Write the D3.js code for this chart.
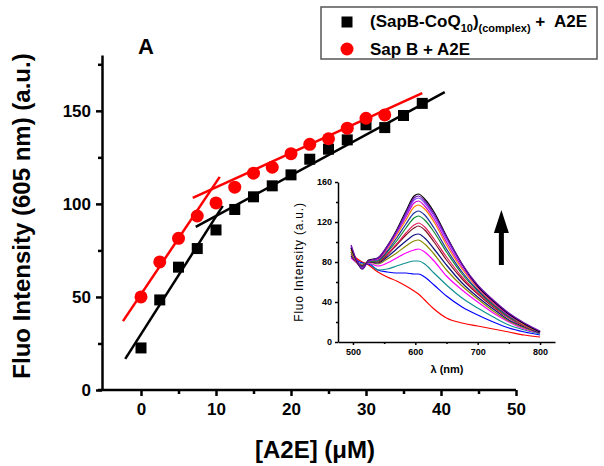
<!DOCTYPE html>
<html><head><meta charset="utf-8">
<script src="https://cdn.jsdelivr.net/npm/d3@7"></script>
<style>
body{margin:0;background:#fff;}
svg{display:block;font-family:"Liberation Sans",Arial,sans-serif;}
</style></head>
<body><svg id="c" width="604" height="466"></svg>
<script>
// ---- main data ----
const complexX = [0,2.5,5,7.5,10,12.5,15,17.5,20,22.5,25,27.5,30,32.5,35,37.5];
const complexY = [22.6,48.4,66,76,86,97,103.8,109.7,115.6,124,129.4,134.4,142.5,141,147.5,154];
const sapBX = [0,2.5,5,7.5,10,12.5,15,17.5,20,22.5,25,27.5,30,32.5];
const sapBY = [50,68.8,81.5,93.5,100.5,109,116.5,119.7,127,132,135,140.7,146,147.8];
const sapBFit1 = [[-2.4,37],[10.5,114.5]];
const sapBFit2 = [[6.9,103.2],[37.5,159.5]];
const complexFit1 = [[-2.1,16.7],[10.9,98.9]];
const complexFit2 = [[7.3,87.6],[40.5,160]];
const xTicks = [0,10,20,30,40,50];
const xMinor = [5,15,25,35,45];
const yTicks = [0,50,100,150];
const yMinor = [25,75,125,175];
const legendLabels = ["(SapB-CoQ", "10", ")", "(complex)", " +  A2E", "Sap B + A2E"];

// ---- inset data ----
const wavelengths = [497,505,515,525,540,555,570,585,598,605,615,630,650,675,700,725,750,775,800];
const specRed      = [90,84,80,77,70,65,61,56,51,48,42,33,24,19,16,13,10,7,5];
const specBlue     = [86,82,79,78,72,70,69,69,68,68,65,57,46,35,27,20,14,10,7];
const specTeal     = [88,81,78,79,72,73,76,79,81,81,78,69,57,44,34,25,17,12,8];
const specMagenta  = [84,80,77,79,76,79,84,89,92,93,90,81,66,52,40,29,20,13,9];
const specOlive    = [90,81,77,80,78,83,89,96,101,102,98,88,72,56,43,31,21,14,9];
const specNavy     = [86,80,76,80,79,85,93,101,107,108,104,93,77,59,45,33,22,15,9];
const specDarkRed  = [92,81,76,80,80,87,97,107,114,116,112,100,82,63,48,35,24,16,10];
const specCrimson  = [88,80,75,80,81,88,98,109,117,119,115,103,85,65,49,36,24,16,10];
const specGreen    = [90,81,75,80,81,90,101,114,124,126,122,110,90,68,51,37,25,17,10];
const specBlue2    = [94,82,75,81,82,91,104,118,129,131,127,114,93,70,52,38,26,17,10];
const specOrange   = [92,81,74,81,83,93,107,122,135,137,133,120,97,73,54,39,27,17,10];
const specMagenta2 = [95,82,74,81,83,94,109,125,139,141,136,123,100,75,55,40,27,18,10];
const specViolet   = [96,82,74,81,84,95,110,127,142,144,139,126,103,77,56,41,28,18,10];
const specPurple   = [97,83,73,81,84,96,111,129,144,146,141,128,105,78,57,42,29,19,11];
const specBlack    = [94,82,73,82,84,96,112,131,146,148,143,130,106,78,56,41,28,18,10];
const spectra = [specRed,specBlue,specTeal,specMagenta,specOlive,specNavy,specDarkRed,specCrimson,
  specGreen,specBlue2,specOrange,specMagenta2,specViolet,specBlack,specPurple];
const specColors = ["#ff0000","#0000ff","#109090","#ff00ff","#8a8a00","#101080","#801020","#e0205a",
  "#108a30","#2030a0","#ff8000","#d000d0","#8040ff","#000000","#7010b0"];
const insetXTicks = [500,600,700,800];
const insetXMinor = [550,650,750];
const insetYTicks = [0,40,80,120,160];
const insetYMinor = [20,60,100,140];
const arrowData = {x:738, y0:77, y1:132};

const svg = d3.select("#c");
const x = d3.scaleLinear().domain([-5.2,50]).range([102,516]);
const y = d3.scaleLinear().domain([0,180]).range([390,55]);

// axes
function styleAxis(g, w){
  g.select(".domain").attr("stroke","#000").attr("stroke-width",w);
  g.selectAll(".tick line").attr("stroke","#000").attr("stroke-width",w);
}
const gx = svg.append("g").attr("transform","translate(0,390)")
  .call(d3.axisBottom(x).tickValues(xTicks).tickSize(6).tickSizeOuter(0).tickPadding(7));
styleAxis(gx,2.5);
gx.select(".domain").attr("d","M98,0H516");
gx.selectAll("text").attr("font-size",17).attr("font-weight","bold").attr("fill","#000").attr("font-family","Liberation Sans, Arial, sans-serif");
const gxm = svg.append("g").attr("transform","translate(0,390)")
  .call(d3.axisBottom(x).tickValues(xMinor).tickSize(4).tickFormat(""));
styleAxis(gxm,2.5); gxm.select(".domain").remove();

const gy = svg.append("g").attr("transform","translate(102,0)")
  .call(d3.axisLeft(y).tickValues(yTicks).tickSize(6).tickSizeOuter(0).tickPadding(5));
styleAxis(gy,2.5);
gy.selectAll("text").attr("font-size",17).attr("font-weight","bold").attr("fill","#000").attr("font-family","Liberation Sans, Arial, sans-serif");
const gym = svg.append("g").attr("transform","translate(102,0)")
  .call(d3.axisLeft(y).tickValues(yMinor).tickSize(4).tickFormat(""));
styleAxis(gym,2.5); gym.select(".domain").remove();

// titles
svg.append("text").attr("transform","translate(30,216) rotate(-90)").attr("text-anchor","middle")
  .attr("font-size",24).attr("font-weight","bold").text("Fluo Intensity (605 nm) (a.u.)");
svg.append("text").attr("x",315).attr("y",458).attr("text-anchor","middle")
  .attr("font-size",24).attr("font-weight","bold").text("[A2E] (\u03bcM)");
svg.append("text").attr("x",146).attr("y",54).attr("text-anchor","middle")
  .attr("font-size",22).attr("font-weight","bold").text("A");

// fit lines
const line2 = d3.line().x(d=>x(d[0])).y(d=>y(d[1]));
[[sapBFit1,"#ff0000"],[sapBFit2,"#ff0000"],[complexFit1,"#000"],[complexFit2,"#000"]].forEach(([d,c])=>{
  svg.append("path").attr("d",line2(d)).attr("stroke",c).attr("stroke-width",2.5).attr("fill","none");
});
// points
const sq = 11;
svg.append("g").selectAll("rect").data(complexX.map((v,i)=>[v,complexY[i]])).join("rect")
  .attr("x",d=>x(d[0])-sq/2).attr("y",d=>y(d[1])-sq/2).attr("width",sq).attr("height",sq).attr("fill","#000");
svg.append("g").selectAll("circle").data(sapBX.map((v,i)=>[v,sapBY[i]])).join("circle")
  .attr("cx",d=>x(d[0])).attr("cy",d=>y(d[1])).attr("r",6.5).attr("fill","#ff0000");

// legend
const lg = svg.append("g");
lg.append("rect").attr("x",321).attr("y",7).attr("width",276).attr("height",52)
  .attr("fill","#fff").attr("stroke","#555").attr("stroke-width",1.5);
lg.append("rect").attr("x",347-5.5).attr("y",22-5.5).attr("width",11).attr("height",11).attr("fill","#000");
lg.append("circle").attr("cx",347).attr("cy",49).attr("r",6.5).attr("fill","#ff0000");
const t1 = lg.append("text").attr("x",370).attr("y",27).attr("font-size",17).attr("font-weight","bold");
t1.append("tspan").text(legendLabels[0]);
t1.append("tspan").attr("font-size",11).attr("dy",5).text(legendLabels[1]);
t1.append("tspan").attr("dy",-5).text(legendLabels[2]);
t1.append("tspan").attr("font-size",11).attr("dy",5).text(legendLabels[3]);
t1.append("tspan").attr("dy",-5).attr("xml:space","preserve").style("white-space","pre").text(legendLabels[4]);
lg.append("text").attr("x",370).attr("y",55).attr("font-size",17).attr("font-weight","bold").text(legendLabels[5]);

// inset
const ix = d3.scaleLinear().domain([476,824]).range([338,555]);
const iy = d3.scaleLinear().domain([0,160]).range([342,182]);
const ig = svg.append("g");
const igx = ig.append("g").attr("transform","translate(0,342)")
  .call(d3.axisBottom(ix).tickValues(insetXTicks).tickSize(3).tickSizeOuter(0).tickPadding(4));
styleAxis(igx,1.5);
igx.selectAll("text").attr("font-size",9).attr("font-weight","bold").attr("fill","#000").attr("font-family","Liberation Sans, Arial, sans-serif");
const igxm = ig.append("g").attr("transform","translate(0,342)")
  .call(d3.axisBottom(ix).tickValues(insetXMinor).tickSize(2).tickFormat(""));
styleAxis(igxm,1.5); igxm.select(".domain").remove();
const igy = ig.append("g").attr("transform","translate(338,0)")
  .call(d3.axisLeft(iy).tickValues(insetYTicks).tickSize(3).tickSizeOuter(0).tickPadding(3));
styleAxis(igy,1.5);
igy.selectAll("text").attr("font-size",9).attr("font-weight","bold").attr("fill","#000").attr("font-family","Liberation Sans, Arial, sans-serif");
const igym = ig.append("g").attr("transform","translate(338,0)")
  .call(d3.axisLeft(iy).tickValues(insetYMinor).tickSize(2).tickFormat(""));
styleAxis(igym,1.5); igym.select(".domain").remove();

const sl = d3.line().x((d,i)=>ix(wavelengths[i])).y(d=>iy(d)).curve(d3.curveMonotoneX);
spectra.forEach((s,k)=>{
  ig.append("path").attr("d",sl(s)).attr("fill","none").attr("stroke",specColors[k]).attr("stroke-width",1.2);
});
ig.append("text").attr("x",447).attr("y",373).attr("text-anchor","middle")
  .attr("font-size",11).attr("font-weight","bold").text("\u03bb (nm)");
ig.append("text").attr("transform","translate(303,262) rotate(-90)").attr("text-anchor","middle")
  .attr("font-size",12).attr("letter-spacing",0.8).text("Fluo Intensity (a.u.)");

// arrow
const ax = ix(arrowData.x), ay0 = iy(arrowData.y0), ay1 = iy(arrowData.y1);
const headH = 23, headW = 7.5, shaftW = 2.5;
ig.append("path").attr("fill","#000").attr("d",
  `M${ax},${ay1} L${ax+headW},${ay1+headH} L${ax+shaftW},${ay1+headH} L${ax+shaftW},${ay0} L${ax-shaftW},${ay0} L${ax-shaftW},${ay1+headH} L${ax-headW},${ay1+headH} Z`);
</script></body></html>
